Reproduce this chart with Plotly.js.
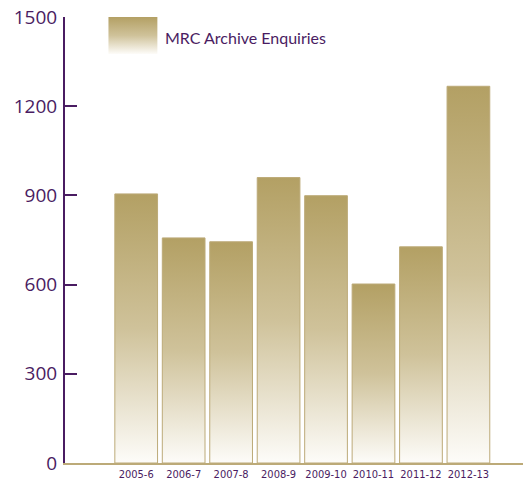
<!DOCTYPE html>
<html>
<head>
<meta charset="utf-8">
<script src="https://cdn.plot.ly/plotly-3.0.1.min.js"></script>
<style>html,body{margin:0;padding:0;background:#fff;}#chart{width:528px;height:484px;}</style>
</head>
<body>
<div id="chart"></div>
<script>
const years = ["2005-6","2006-7","2007-8","2008-9","2009-10","2010-11","2011-12","2012-13"];
const enquiries = [905, 757, 744, 960, 899, 602, 727, 1267];
const seriesName = "MRC Archive Enquiries";
const yTicks = [0, 300, 600, 900, 1200, 1500];

const purple = "#4a1c62";
const gold = "#b3a064";

const trace = {
  type: "bar",
  x: years.map((_, i) => i),
  y: enquiries,
  name: seriesName,
  marker: { color: gold, line: { color: "#bcaa78", width: 1 } },
  width: 0.9,
  hoverinfo: "skip",
  showlegend: false
};

const layout = {
  width: 528, height: 484,
  margin: { l: 64.5, r: 5, t: 17, b: 21 },
  paper_bgcolor: "#fff", plot_bgcolor: "#fff",
  showlegend: false,
  xaxis: {
    range: [-1.5, 8.15],
    tickvals: years.map((_, i) => i),
    ticktext: years,
    ticks: "",
    showgrid: false, zeroline: false,
    showline: true, linecolor: "#bcaa78", linewidth: 2,
    tickfont: { family: "'DejaVu Sans Condensed', 'Liberation Sans Narrow', 'Noto Sans', sans-serif", size: 11, color: purple },
    fixedrange: true
  },
  yaxis: {
    range: [0, 1500],
    tickvals: yTicks,
    ticktext: yTicks.map(String),
    ticks: "inside", ticklen: 12, tickwidth: 2, tickcolor: purple,
    showgrid: false, zeroline: false,
    showline: true, linecolor: purple, linewidth: 2,
    tickfont: { family: "Open Sans", size: 19, color: purple },
    ticklabelstandoff: 2,
    fixedrange: true
  },
  shapes: [{
    type: "rect", xref: "paper", yref: "paper",
    x0: 0.0949, x1: 0.2017, y0: 0.917, y1: 1,
    line: { width: 0 }, fillcolor: gold
  }],
  annotations: [{
    xref: "paper", yref: "paper", x: 0.2148, y: 0.955,
    xanchor: "left", yanchor: "middle", showarrow: false,
    text: seriesName,
    font: { family: "Lato", size: 16, color: purple }
  }]
};

Plotly.newPlot("chart", [trace], layout, { staticPlot: true }).then(function (gd) {
  const svg = gd.querySelector(".main-svg");
  const ns = "http://www.w3.org/2000/svg";
  let defs = svg.querySelector("defs");
  if (!defs) { defs = document.createElementNS(ns, "defs"); svg.insertBefore(defs, svg.firstChild); }
  const grad = document.createElementNS(ns, "linearGradient");
  grad.setAttribute("id", "goldGrad");
  grad.setAttribute("x1", "0"); grad.setAttribute("y1", "0");
  grad.setAttribute("x2", "0"); grad.setAttribute("y2", "1");
  [["0", "#b3a064"], ["0.5", "#cfc29a"], ["1", "#fdfcf9"]].forEach(function (s) {
    const st = document.createElementNS(ns, "stop");
    st.setAttribute("offset", s[0]);
    st.setAttribute("stop-color", s[1]);
    grad.appendChild(st);
  });
  defs.appendChild(grad);
  gd.querySelectorAll(".trace.bars .point path").forEach(function (p) {
    p.style.fill = "url(#goldGrad)";
  });
  gd.querySelectorAll(".shapelayer path").forEach(function (p) {
    p.style.fill = "url(#goldGrad)";
    p.style.fillOpacity = 1;
  });
});
</script>
</body>
</html>
